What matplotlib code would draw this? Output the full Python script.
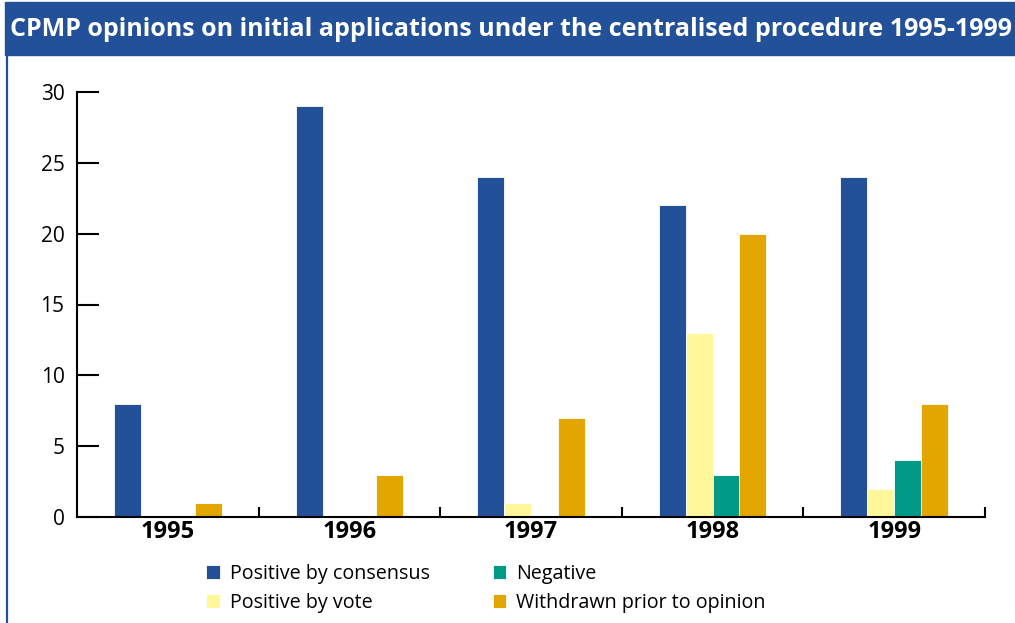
import matplotlib.pyplot as plt
from matplotlib.patches import Rectangle
from matplotlib.lines import Line2D
import numpy as np

years = ["1995", "1996", "1997", "1998", "1999"]
consensus = [8, 29, 24, 22, 24]
vote = [0, 0, 1, 13, 2]
negative = [0, 0, 0, 3, 4]
withdrawn = [1, 3, 7, 20, 8]

series_names = ["Positive by consensus", "Positive by vote", "Negative", "Withdrawn prior to opinion"]
COLORS = ["#22519a", "#fff799", "#009a86", "#e3a500"]

fig = plt.figure(figsize=(10.15, 6.23), dpi=100)

# title band and left border
fig.add_artist(Rectangle((5 / 1015, 1 - 55 / 623), 1, 53 / 623, transform=fig.transFigure,
                         color="#22519a", zorder=0))
fig.add_artist(Line2D([7 / 1015, 7 / 1015], [0, 1 - 55 / 623], transform=fig.transFigure,
                      color="#22519a", lw=1.6))
fig.text(10 / 1015, 1 - 30 / 623, "CPMP opinions on initial applications under the centralised procedure 1995-1999",
         color="white", fontsize=18, fontweight="bold", va="center", ha="left",
         family=["Open Sans", "DejaVu Sans"])

ax = fig.add_axes([77 / 1015, 1 - 517 / 623, 908 / 1015, 425 / 623])

x = np.arange(len(years))
w = 0.148
for i, (vals, name) in enumerate(zip([consensus, vote, negative, withdrawn], series_names)):
    ax.bar(x + (i - 1.5) * w, vals, width=w, color=COLORS[i], edgecolor="white",
           linewidth=0.6, label=name)

ax.set_xlim(-0.5, len(years) - 0.5)
ax.set_ylim(0, 30)
ax.set_yticks([0, 5, 10, 15, 20, 25, 30])
ax.set_xticks(x)
ax.set_xticklabels(years, fontsize=17, fontweight="bold", family="Open Sans")
ax.set_xticks(np.arange(0.5, len(years)), minor=True)
ax.tick_params(axis="x", which="major", length=0, pad=2)
ax.tick_params(axis="x", which="minor", direction="in", length=7, width=1.5)
ax.tick_params(axis="y", direction="in", length=16, width=1.5, labelsize=15, pad=9)
for lab in ax.get_yticklabels():
    lab.set_family("Open Sans")

for s in ["top", "right"]:
    ax.spines[s].set_visible(False)
for s in ["left", "bottom"]:
    ax.spines[s].set_linewidth(1.5)

fig.legend(loc="upper left", bbox_to_anchor=(196 / 1015, 1 - 554 / 623), ncol=2,
           frameon=False, prop={"family": "Open Sans", "size": 14.2},
           handlelength=0.7, handleheight=0.7, handletextpad=0.5,
           columnspacing=3.2, labelspacing=0.45, borderpad=0)

fig.savefig("out.png", dpi=100)
